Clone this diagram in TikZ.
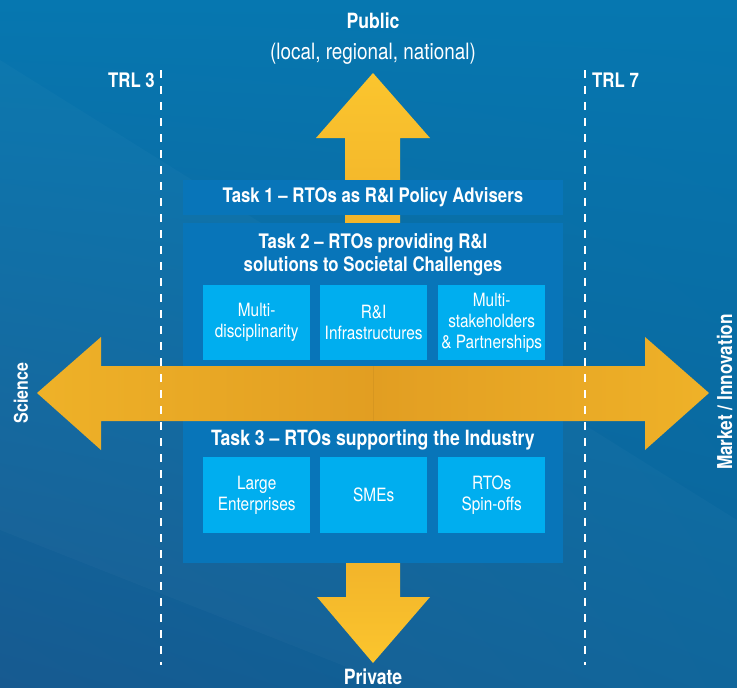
\documentclass[tikz,border=0pt]{standalone}
\usepackage{fontspec}
\setmainfont{TeX Gyre Heros}[FakeStretch=0.84]
\usetikzlibrary{shadings}
\definecolor{bgtop}{HTML}{0677B0}
\definecolor{bgmid}{HTML}{0B6399}
\definecolor{bgbot}{HTML}{175A90}
\definecolor{boxc}{HTML}{0875B9}
\definecolor{subc}{HTML}{00AEEF}
\definecolor{ylw}{HTML}{FBC52E}
\definecolor{ylwd}{HTML}{F2B42A}
\definecolor{org}{HTML}{E29E22}
\pgfdeclarehorizontalshading{hshade}{100bp}{color(0bp)=(ylw); color(50bp)=(org); color(100bp)=(ylw)}
\begin{document}
\begin{tikzpicture}[x=1pt,y=-1pt,
  sub/.style={fill=subc, minimum width=107pt, minimum height=75pt, anchor=north west,
    text=white, font=\fontsize{18.3}{21}\selectfont, align=center, inner sep=0pt},
  taskbox/.style={fill=boxc, anchor=north west, inner sep=0pt},
  lbl/.style={text=white, font=\bfseries\fontsize{20}{23}\selectfont, align=center, inner sep=0pt},
  side/.style={text=white, font=\bfseries\fontsize{20}{20}\selectfont, inner sep=0pt, rotate=90},
  trl/.style={draw=white, line width=1.4pt, dash pattern=on 8pt off 8pt}]
\useasboundingbox (0,0) rectangle (737,688);
% background
\shade[upper left=bgtop, upper right=bgtop, lower left=bgbot, lower right=bgmid] (0,0) rectangle (737,688);
\fill[white, opacity=0.025] (0,60) -- (0,530) -- (400,688) -- (737,688) -- (737,520) -- cycle;
% vertical arrows (behind boxes)
\shade[top color=ylw, bottom color=ylwd] (345,226) -- (345,138) -- (316,138) -- (373,73) -- (430,138) -- (400,138) -- (400,226) -- cycle;
\shade[top color=ylwd, bottom color=ylw] (346,560) -- (346,597) -- (317,597) -- (373,663) -- (430,597) -- (400,597) -- (400,560) -- cycle;
% task boxes
\node[taskbox, minimum width=380pt, minimum height=35pt] (t1) at (183,180) {};
\node[lbl] (t1l) at (373,197) {Task 1 – RTOs as R\&I Policy Advisers};
\node[taskbox, minimum width=380pt, minimum height=340pt] (t23) at (183,223) {};
\node[lbl] (t2l) at (373,255) {Task 2 – RTOs providing R\&I\\solutions to Societal Challenges};
% sub boxes row 1
\node[sub] (s1) at (203,285) {Multi-\\disciplinarity};
\node[sub] (s2) at (320,285) {R\&I\\Infrastructures};
\node[sub] (s3) at (438,285) {Multi-\\stakeholders\\\& Partnerships};
% horizontal arrow
\shade[shading=hshade] (37,393) -- (101,337) -- (101,366) -- (645,366) -- (645,337) -- (709,393) -- (645,450) -- (645,421) -- (101,421) -- (101,450) -- cycle;
\draw[org!85!black, opacity=0.3, line width=0.6pt] (373,366) -- (373,421);
% task 3
\node[lbl, font=\bfseries\fontsize{21}{23}\selectfont] (t3l) at (373,440) {Task 3 – RTOs supporting the Industry};
\node[sub, minimum height=76pt] (s4) at (203,457) {Large\\Enterprises};
\node[sub, minimum height=76pt] (s5) at (320,457) {SMEs};
\node[sub, minimum height=76pt] (s6) at (438,457) {RTOs\\Spin-offs};
% TRL lines
\coordinate (a1) at (161,70); \coordinate (a2) at (161,665);
\coordinate (b1) at (585,70); \coordinate (b2) at (585,665);
\draw[trl] (a1) -- (a2);
\draw[trl] (b1) -- (b2);
\node[lbl, anchor=east] (trl3) at (155,80) {TRL 3};
\node[lbl, anchor=west] (trl7) at (592,80) {TRL 7};
% labels
\node[lbl, font=\bfseries\fontsize{21}{22}\selectfont] (pub) at (373,21) {Public};
\node[lbl, font=\fontsize{22.5}{24}\selectfont] (pub2) at (373,54) {(local, regional, national)};
\node[lbl, font=\bfseries\fontsize{21}{22}\selectfont] (priv) at (373,677) {Private};
\node[side, font=\bfseries\fontsize{19}{20}\selectfont] (sci) at (21,393) {Science};
\node[side, font=\bfseries\fontsize{20.5}{22}\selectfont, anchor=base] (mkt) at (732,392) {Market / Innovation};
\end{tikzpicture}
\end{document}
